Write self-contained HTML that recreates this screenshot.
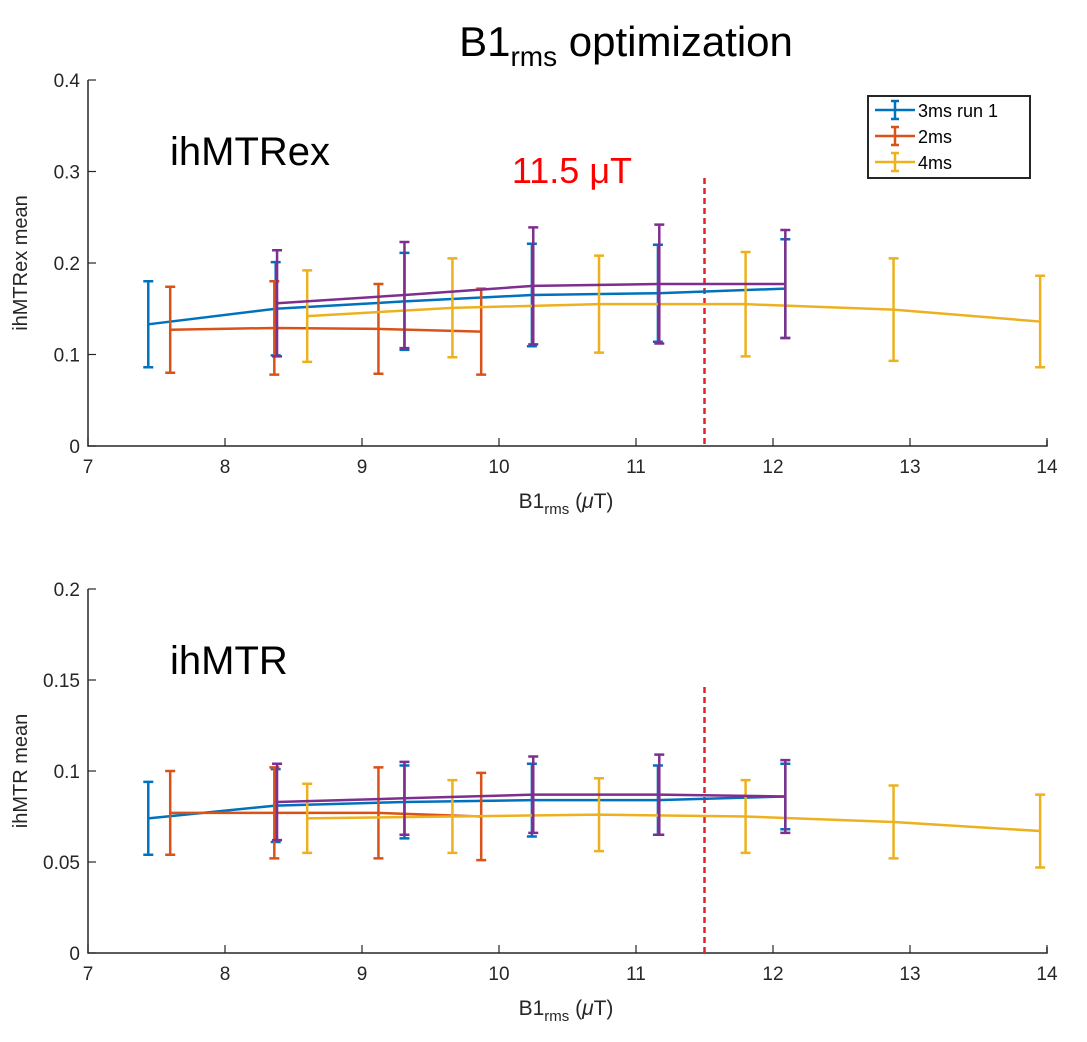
<!DOCTYPE html>
<html><head><meta charset="utf-8"><style>
body{margin:0;background:#fff;width:1087px;height:1037px;overflow:hidden;font-family:"Liberation Sans",sans-serif;}
</style></head><body>
<svg id="svg" width="1087" height="1037" xmlns="http://www.w3.org/2000/svg">
<text x="626" y="56" font-size="42" text-anchor="middle" font-family="Liberation Sans, sans-serif">B1<tspan font-size="28" dy="10">rms</tspan><tspan dy="-10"> optimization</tspan></text>
<g id="top"></g>
<g id="bot"></g>
</svg>
<script>
const xTicks=[7,8,9,10,11,12,13,14];
const topYTicks=[0,0.1,0.2,0.3,0.4];
const botYTicks=[0,0.05,0.1,0.15,0.2];
const seriesNames=["3ms run 1","2ms","4ms","purple"];
const colors=["#0072BD","#D95319","#EDB120","#7E2F8E"];
const xBlue=[7.44,8.37,9.31,10.24,11.16,12.09];
const xOrange=[7.6,8.36,9.12,9.87];
const xYellow=[8.6,9.66,10.73,11.8,12.88,13.95];
const xPurple=[8.38,9.31,10.25,11.17,12.09];
const topBlue=[0.133,0.150,0.158,0.165,0.167,0.172];
const topBlueErr=[0.047,0.051,0.053,0.056,0.053,0.054];
const topOrange=[0.127,0.129,0.128,0.125];
const topOrangeErr=[0.047,0.051,0.049,0.047];
const topYellow=[0.142,0.151,0.155,0.155,0.149,0.136];
const topYellowErr=[0.050,0.054,0.053,0.057,0.056,0.050];
const topPurple=[0.156,0.165,0.175,0.177,0.177];
const topPurpleErr=[0.058,0.058,0.064,0.065,0.059];
const botBlue=[0.074,0.081,0.083,0.084,0.084,0.086];
const botBlueErr=[0.020,0.020,0.020,0.020,0.019,0.018];
const botOrange=[0.077,0.077,0.077,0.075];
const botOrangeErr=[0.023,0.025,0.025,0.024];
const botYellow=[0.074,0.075,0.076,0.075,0.072,0.067];
const botYellowErr=[0.019,0.020,0.020,0.020,0.020,0.020];
const botPurple=[0.083,0.085,0.087,0.087,0.086];
const botPurpleErr=[0.021,0.020,0.021,0.022,0.020];
const vline=11.5;

const NS="http://www.w3.org/2000/svg";
function mk(p,t,a){const e=document.createElementNS(NS,t);for(const k in a)e.setAttribute(k,a[k]);p.appendChild(e);return e;}
function chart(g,top,bottom,ymax,yTicks,ylabel,bigLabel,series,dec){
 const L=88,R=1047;
 const sx=v=>L+(v-7)/(14-7)*(R-L);
 const sy=v=>bottom-v/ymax*(bottom-top);
 const ax=mk(g,"path",{d:`M${L} ${top}V${bottom}H${R}V${bottom-6}`,fill:"none",stroke:"#262626","stroke-width":1.5});
 
 
 xTicks.forEach(t=>{
  const l=mk(g,"line",{x1:sx(t),x2:sx(t),y1:bottom,y2:bottom-8,stroke:"#262626","stroke-width":1.2});
  
  
  const tx=mk(g,"text",{x:sx(t),y:bottom+27,"font-size":19,"text-anchor":"middle",fill:"#262626"});tx.textContent=t;
  
  
 });
 yTicks.forEach(t=>{
  const l=mk(g,"line",{x1:L,x2:L+8,y1:sy(t),y2:sy(t),stroke:"#262626","stroke-width":1.2});
  
  
  const tx=mk(g,"text",{x:L-8,y:sy(t)+7,"font-size":19,"text-anchor":"end",fill:"#262626"});tx.textContent=t===0?"0":t.toFixed(dec).replace(/0$/,dec==2&&t*100%10==0?"":"0").replace(/\.?$/,"");
  tx.textContent=String(t);
  
  
 });
 const yl=mk(g,"text",{transform:`translate(27 ${(top+bottom)/2}) rotate(-90)`,"font-size":20,"text-anchor":"middle",fill:"#262626"});yl.textContent=ylabel;
 
 
 const xl=mk(g,"text",{x:566,y:bottom+62,"font-size":21,"text-anchor":"middle",fill:"#262626"});
 xl.innerHTML='B1<tspan font-size="15" dy="6">rms</tspan><tspan dy="-6"> (</tspan><tspan font-style="italic">μ</tspan>T)';
 
 
 const bl=mk(g,"text",{x:170,y:top+85,"font-size":40,fill:"#000"});bl.textContent=bigLabel;
 
 
 const vl=mk(g,"line",{x1:sx(vline),x2:sx(vline),y1:top+98,y2:bottom,stroke:"#E0202A","stroke-width":2.5,"stroke-dasharray":"6 4"});
 
 
 series.forEach((s,i)=>{
  const [xs,ys,es]=s;
  const sg=mk(g,"g",{});
  
  
  mk(sg,"polyline",{points:xs.map((x,j)=>sx(x)+","+sy(ys[j])).join(" "),fill:"none",stroke:colors[i],"stroke-width":2.5});
  xs.forEach((x,j)=>{
   const X=sx(x),y1=sy(ys[j]+es[j]),y2=sy(ys[j]-es[j]);
   const eb=mk(sg,"path",{d:`M${X} ${y1}V${y2}M${X-5} ${y1}H${X+5}M${X-5} ${y2}H${X+5}`,stroke:colors[i],"stroke-width":2.5,fill:"none"});
   
   
  });
 });
}
chart(document.getElementById("top"),80,446,0.4,topYTicks,"ihMTRex mean","ihMTRex",
 [[xBlue,topBlue,topBlueErr],[xOrange,topOrange,topOrangeErr],[xYellow,topYellow,topYellowErr],[xPurple,topPurple,topPurpleErr]],1);
chart(document.getElementById("bot"),589,953,0.2,botYTicks,"ihMTR mean","ihMTR",
 [[xBlue,botBlue,botBlueErr],[xOrange,botOrange,botOrangeErr],[xYellow,botYellow,botYellowErr],[xPurple,botPurple,botPurpleErr]],2);
// annotation
const svg=document.getElementById("svg");
const ann=mk(svg,"text",{x:572,y:183,"font-size":36,fill:"#FF0000","text-anchor":"middle"});
ann.textContent="11.5 μT";


// legend
const lg=mk(svg,"g",{});


mk(lg,"rect",{x:868,y:96,width:162,height:82,fill:"#fff",stroke:"#262626","stroke-width":2});
["3ms run 1","2ms","4ms"].forEach((n,i)=>{
 const y=110+i*26,c=colors[i];
 const e=mk(lg,"g",{});
 
 
 mk(e,"path",{d:`M875 ${y}H915M895 ${y-9}V${y+9}M891 ${y-9}H899M891 ${y+9}H899`,stroke:c,"stroke-width":2.5,fill:"none"});
 const t=mk(e,"text",{x:918,y:y+7,"font-size":18,fill:"#000"});t.textContent=n;
});
</script>
</body></html>
